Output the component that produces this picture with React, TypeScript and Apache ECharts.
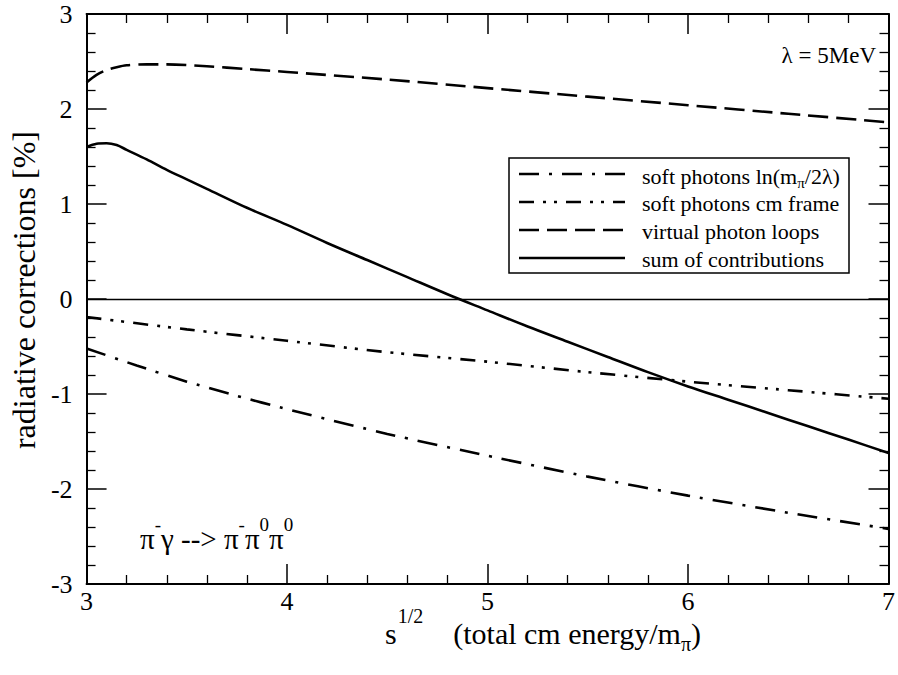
import React, { useEffect, useRef } from "react";
import * as echarts from "echarts";

// ---- data ----
const sumX = [3.0, 3.05, 3.1, 3.15, 3.2, 3.3, 3.4, 3.5, 3.6, 3.8, 4.0, 4.2, 4.4, 4.6, 4.8, 5.0, 5.2, 5.4, 5.6, 5.8, 6.0, 6.2, 6.4, 6.6, 6.8, 7.0];
const sumY = [1.6, 1.635, 1.64, 1.62, 1.57, 1.47, 1.36, 1.26, 1.16, 0.96, 0.78, 0.59, 0.41, 0.23, 0.05, -0.12, -0.29, -0.45, -0.61, -0.77, -0.92, -1.06, -1.2, -1.34, -1.48, -1.62];

const virtX = [3.0, 3.05, 3.1, 3.15, 3.2, 3.3, 3.4, 3.6, 3.8, 4.0, 4.5, 5.0, 5.5, 6.0, 6.5, 7.0];
const virtY = [2.28, 2.36, 2.41, 2.44, 2.46, 2.47, 2.47, 2.45, 2.42, 2.39, 2.31, 2.22, 2.13, 2.04, 1.95, 1.86];

const cmX = [3.0, 3.5, 4.0, 4.5, 5.0, 5.5, 6.0, 6.5, 7.0];
const cmY = [-0.19, -0.32, -0.44, -0.56, -0.66, -0.77, -0.87, -0.96, -1.05];

const lnX = [3.0, 3.25, 3.5, 3.75, 4.0, 4.5, 5.0, 5.5, 6.0, 6.5, 7.0];
const lnY = [-0.52, -0.7, -0.87, -1.02, -1.16, -1.42, -1.65, -1.87, -2.07, -2.25, -2.42];

const xTicks = [3, 4, 5, 6, 7];
const yTicks = [-3, -2, -1, 0, 1, 2, 3];

const legendLabels = [
  "{n|soft photons ln(m}{sub|π}{n|/2λ)}",
  "{n|soft photons cm frame}",
  "{n|virtual photon loops}",
  "{n|sum of contributions}",
];

const FONT = "Liberation Serif";

const DASH_LN = [20, 10, 3, 10];
const DASH_CM = [15, 9, 3, 8, 3, 9];
const DASH_VIRT = [20, 8];

const zip = (xs: number[], ys: number[]) => xs.map((x, i) => [x, ys[i]]);

function buildOption() {
  const tickCommon = {
    axisLine: { show: true, onZero: false, lineStyle: { color: "#000", width: 2 } },
    axisTick: { show: true, inside: true, length: 20, lineStyle: { color: "#000", width: 1.5 } },
    minorTick: { show: true, splitNumber: 5, length: 9, lineStyle: { color: "#000", width: 1.3 } },
    splitLine: { show: false },
    minorSplitLine: { show: false },
  };
  const lineWidth = 2.6;
  const legendTop = 158;
  const rowY = [174, 202, 230, 258];
  const dashes: (number[] | null)[] = [DASH_LN, DASH_CM, DASH_VIRT, null];

  const legendChildren: any[] = [
    {
      type: "rect",
      shape: { x: 509, y: legendTop, width: 340, height: 115 },
      style: { fill: "#fff", stroke: "#000", lineWidth: 1.5 },
    },
  ];
  rowY.forEach((cy, i) => {
    legendChildren.push({
      type: "line",
      shape: { x1: 519, y1: cy, x2: 625, y2: cy },
      style: { stroke: "#000", lineWidth, lineDash: dashes[i] || undefined },
    });
    legendChildren.push({
      type: "text",
      x: 642,
      y: i === 0 ? cy + 1 : cy,
      style: {
        text: legendLabels[i],
        textAlign: "left",
        textVerticalAlign: "middle",
        fill: "#000",
        rich: {
          n: { fontFamily: FONT, fontSize: 22, lineHeight: 20, verticalAlign: "top", fill: "#000" },
          sub: { fontFamily: FONT, fontSize: 15, lineHeight: 13, padding: [10, 0, 0, 0], verticalAlign: "top", fill: "#000" },
        },
      },
    });
  });

  const series: any[] = [
    {
      name: "soft photons ln(mπ/2λ)",
      type: "line",
      data: zip(lnX, lnY),
      showSymbol: false,
      symbol: "none",
      smooth: 0.2,
      lineStyle: { color: "#000", width: lineWidth, type: DASH_LN },
    },
    {
      name: "soft photons cm frame",
      type: "line",
      data: zip(cmX, cmY),
      showSymbol: false,
      symbol: "none",
      smooth: 0.2,
      lineStyle: { color: "#000", width: lineWidth, type: DASH_CM },
    },
    {
      name: "virtual photon loops",
      type: "line",
      data: zip(virtX, virtY),
      showSymbol: false,
      symbol: "none",
      smooth: 0.3,
      lineStyle: { color: "#000", width: lineWidth, type: DASH_VIRT },
    },
    {
      name: "sum of contributions",
      type: "line",
      data: zip(sumX, sumY),
      showSymbol: false,
      symbol: "none",
      smooth: 0.3,
      lineStyle: { color: "#000", width: lineWidth, type: "solid" },
      markLine: {
        silent: true,
        symbol: ["none", "none"],
        label: { show: false },
        lineStyle: { color: "#000", width: 1.3, type: "solid" },
        data: [{ yAxis: 0 }],
      },
    },
  ];

  const labelStyle = {
    show: true,
    fontFamily: FONT,
    fontSize: 26,
    color: "#000",
    showMinLabel: true,
    showMaxLabel: true,
  };

  return {
    animation: false,
    backgroundColor: "#fff",
    textStyle: { fontFamily: FONT, color: "#000" },
    grid: { left: 76, right: 5, top: 14, bottom: 91, containLabel: false },
    xAxis: [
      {
        type: "value",
        min: xTicks[0],
        max: xTicks[xTicks.length - 1],
        interval: 1,
        position: "bottom",
        ...tickCommon,
        axisLabel: { ...labelStyle, margin: 4 },
      },
      {
        type: "value",
        min: xTicks[0],
        max: xTicks[xTicks.length - 1],
        interval: 1,
        position: "top",
        ...tickCommon,
        axisLabel: { show: false },
      },
    ],
    yAxis: [
      {
        type: "value",
        min: yTicks[0],
        max: yTicks[yTicks.length - 1],
        interval: 1,
        position: "left",
        ...tickCommon,
        axisLabel: { ...labelStyle, margin: 14 },
        name: "radiative corrections [%]",
        nameLocation: "middle",
        nameRotate: 90,
        nameGap: 46,
        nameTextStyle: { fontFamily: FONT, fontSize: 32, color: "#000", padding: [0, 0, 0, 18] },
      },
      {
        type: "value",
        min: yTicks[0],
        max: yTicks[yTicks.length - 1],
        interval: 1,
        position: "right",
        ...tickCommon,
        axisLabel: { show: false },
      },
    ],
    series,
    graphic: [
      { type: "group", children: legendChildren },
      {
        type: "text",
        x: 385,
        y: 606,
        style: {
          text: "{n|s}{sup|1/2}{m|(total cm energy/m}{sub|π}{n|)}",
          textAlign: "left",
          textVerticalAlign: "top",
          fill: "#000",
          rich: {
            n: { fontFamily: FONT, fontSize: 30, lineHeight: 34, padding: [12, 0, 0, 0], verticalAlign: "top", fill: "#000" },
            m: { fontFamily: FONT, fontSize: 30, lineHeight: 34, padding: [12, 0, 0, 30], verticalAlign: "top", fill: "#000" },
            sup: { fontFamily: FONT, fontSize: 20, lineHeight: 22, padding: [0, 0, 0, 1], verticalAlign: "top", fill: "#000" },
            sub: { fontFamily: FONT, fontSize: 20, lineHeight: 22, padding: [28, 0, 0, 0], verticalAlign: "top", fill: "#000" },
          },
        },
      },
      {
        type: "text",
        x: 876,
        y: 55,
        style: {
          text: "λ = 5MeV",
          textAlign: "right",
          textVerticalAlign: "middle",
          fontFamily: FONT,
          fontSize: 23,
          fill: "#000",
        },
      },
      {
        type: "text",
        x: 140,
        y: 530,
        style: {
          text: "{n|π}{sup|-}{n|γ --> π}{sup|-}{n|π}{sup|0}{n|π}{sup|0}",
          textAlign: "left",
          textVerticalAlign: "middle",
          fill: "#000",
          rich: {
            n: { fontFamily: FONT, fontSize: 29, lineHeight: 30, padding: [9, 0, 0, 0], verticalAlign: "top", fill: "#000" },
            sup: { fontFamily: FONT, fontSize: 19, lineHeight: 19, padding: [0, 0, 0, 0], verticalAlign: "top", fill: "#000" },
          },
        },
      },
    ],
  };
}

export default function App() {
  const ref = useRef<HTMLDivElement>(null);
  useEffect(() => {
    if (!ref.current) return;
    const chart = echarts.init(ref.current, null, { renderer: "svg" });
    chart.setOption(buildOption() as any);
    return () => chart.dispose();
  }, []);
  return (
    <div
      ref={ref}
      style={{ position: "fixed", left: 0, top: 0, width: 898, height: 675, background: "#fff" }}
    />
  );
}
